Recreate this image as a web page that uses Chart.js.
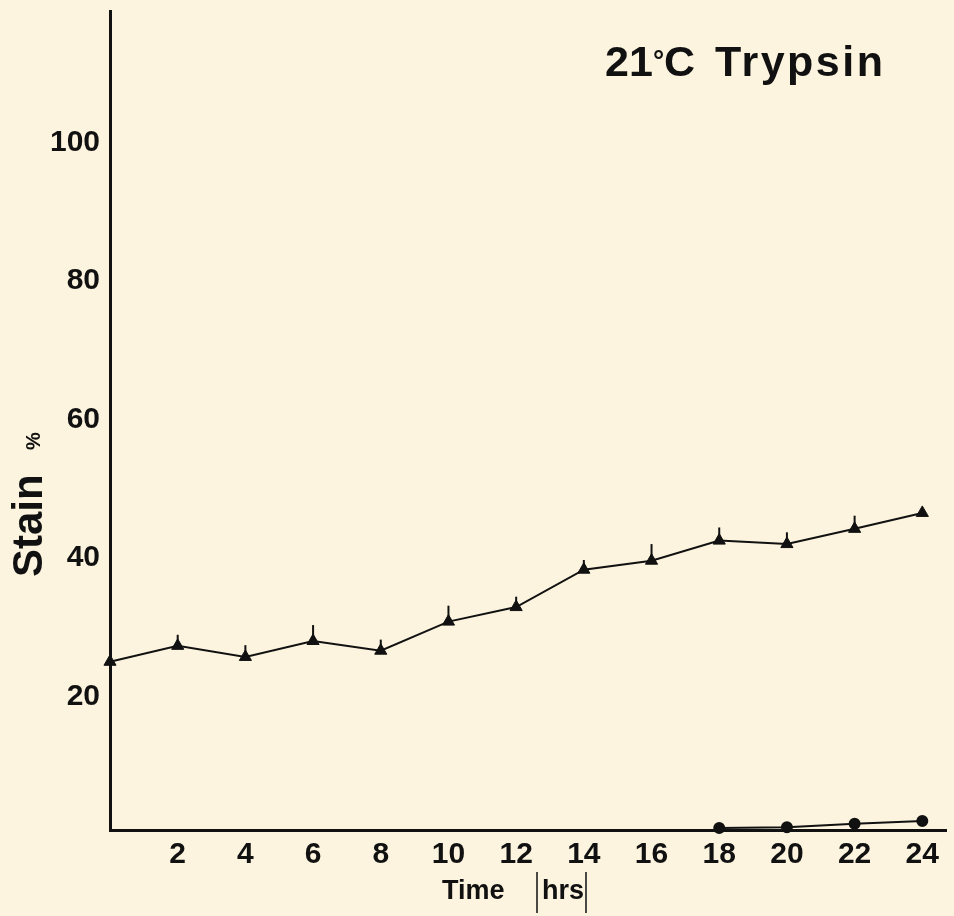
<!DOCTYPE html>
<html>
<head>
<meta charset="utf-8">
<script src="https://cdn.jsdelivr.net/npm/chart.js@4/dist/chart.umd.min.js"></script>
<style>
  html, body { margin: 0; padding: 0; background: #fcf4de; }
  #wrap { width: 954px; height: 916px; }
</style>
</head>
<body>
<div id="wrap"><canvas id="c" width="954" height="916"></canvas></div>
<script>
// Stain % over time, 21°C trypsin
var hours      = [0, 2, 4, 6, 8, 10, 12, 14, 16, 18, 20, 22, 24];
var stainTri   = [24.3, 26.6, 25.0, 27.3, 25.9, 30.1, 32.2, 37.6, 38.9, 41.8, 41.3, 43.5, 45.8];
var stainTriErr = [0, 1.6, 1.7, 2.3, 1.6, 2.3, 1.5, 1.4, 2.4, 1.9, 1.7, 1.9, 0];
var hoursDot   = [18, 20, 22, 24];
var stainDot   = [0.3, 0.4, 0.9, 1.3];
var xTicks     = [2, 4, 6, 8, 10, 12, 14, 16, 18, 20, 22, 24];
var yTicks     = [20, 40, 60, 80, 100];

var INK = '#111';
var FONT = '"Liberation Sans", Arial, Helvetica, sans-serif';

function pts(xs, ys) {
    return xs.map(function (x, i) { return { x: x, y: ys[i] }; });
}

// upward-only error spikes on the triangle series
var errorSpikes = {
    id: 'errorSpikes',
    afterDatasetsDraw: function (chart) {
        var ctx = chart.ctx, xs = chart.scales.x, ys = chart.scales.y;
        ctx.save();
        ctx.strokeStyle = INK;
        ctx.lineWidth = 2;
        hours.forEach(function (h, i) {
            if (!stainTriErr[i]) return;
            var px = xs.getPixelForValue(h);
            ctx.beginPath();
            ctx.moveTo(px, ys.getPixelForValue(stainTri[i]));
            ctx.lineTo(px, ys.getPixelForValue(stainTri[i] + stainTriErr[i]));
            ctx.stroke();
        });
        ctx.restore();
    }
};

// background, title and axis captions
var labels = {
    id: 'labels',
    beforeDraw: function (chart) {
        var ctx = chart.ctx;
        ctx.save();
        ctx.fillStyle = '#fcf4de';
        ctx.fillRect(0, 0, chart.width, chart.height);
        ctx.restore();
    },
    afterDraw: function (chart) {
        var ctx = chart.ctx;
        ctx.save();
        ctx.fillStyle = INK;
        ctx.textBaseline = 'alphabetic';
        ctx.textAlign = 'left';

        ctx.font = 'bold 43px ' + FONT;
        ctx.fillText('21', 605, 76);
        ctx.fillText('C', 664, 76);
        ctx.font = 'bold 28px ' + FONT;
        ctx.fillText('°', 653, 70);
        ctx.font = 'bold 43px ' + FONT;
        ctx.letterSpacing = '2.5px';
        ctx.fillText('Trypsin', 715, 76);
        ctx.letterSpacing = '0px';

        // y caption, rotated
        ctx.save();
        ctx.translate(42, 577);
        ctx.rotate(-Math.PI / 2);
        ctx.font = 'bold 42px ' + FONT;
        ctx.fillText('Stain', 0, 0);
        ctx.font = 'bold 20px ' + FONT;
        ctx.fillText('%', 127, -2);
        ctx.restore();

        // x caption
        ctx.font = 'bold 27px ' + FONT;
        ctx.fillText('Time', 442, 899);
        ctx.fillText('hrs', 542, 899);
        ctx.strokeStyle = INK;
        ctx.lineWidth = 1.5;
        ctx.beginPath();
        ctx.moveTo(537, 872); ctx.lineTo(537, 913);
        ctx.moveTo(586, 872); ctx.lineTo(586, 913);
        ctx.stroke();
        ctx.restore();
    }
};

new Chart(document.getElementById('c'), {
    type: 'line',
    data: {
        datasets: [
            {
                data: pts(hours, stainTri),
                borderColor: INK,
                borderWidth: 2,
                pointStyle: 'triangle',
                pointRadius: 7,
                pointBackgroundColor: INK,
                pointBorderColor: INK,
                pointBorderWidth: 1,
                tension: 0,
                clip: false
            },
            {
                data: pts(hoursDot, stainDot),
                borderColor: INK,
                borderWidth: 2,
                pointStyle: 'circle',
                pointRadius: 5,
                pointBackgroundColor: INK,
                pointBorderColor: INK,
                tension: 0,
                clip: false
            }
        ]
    },
    options: {
        responsive: false,
        animation: false,
        layout: { padding: { top: 11, right: 0, left: 0, bottom: 0 } },
        plugins: {
            legend: { display: false },
            tooltip: { enabled: false },
            title: { display: false }
        },
        scales: {
            x: {
                type: 'linear',
                min: 0,
                max: 24.7,
                grid: { drawOnChartArea: false, drawTicks: false, color: 'transparent' },
                border: { color: INK, width: 3 },
                ticks: {
                    color: INK,
                    padding: 7,
                    maxRotation: 0,
                    font: { family: FONT, size: 30, weight: 'bold' }
                },
                afterBuildTicks: function (s) { s.ticks = xTicks.map(function (v) { return { value: v }; }); },
                afterFit: function (s) { s.height = 86; s.paddingLeft = 0; s.paddingRight = 0; }
            },
            y: {
                min: 0,
                max: 118.3,
                grid: { drawOnChartArea: false, drawTicks: false, color: 'transparent' },
                border: { color: INK, width: 3 },
                ticks: {
                    color: INK,
                    padding: 10,
                    labelOffset: 5,
                    font: { family: FONT, size: 30, weight: 'bold' }
                },
                afterBuildTicks: function (s) { s.ticks = yTicks.map(function (v) { return { value: v }; }); },
                afterFit: function (s) { s.width = 110; s.paddingTop = 0; s.paddingBottom = 0; }
            }
        }
    },
    plugins: [labels, errorSpikes]
});
</script>
</body>
</html>
